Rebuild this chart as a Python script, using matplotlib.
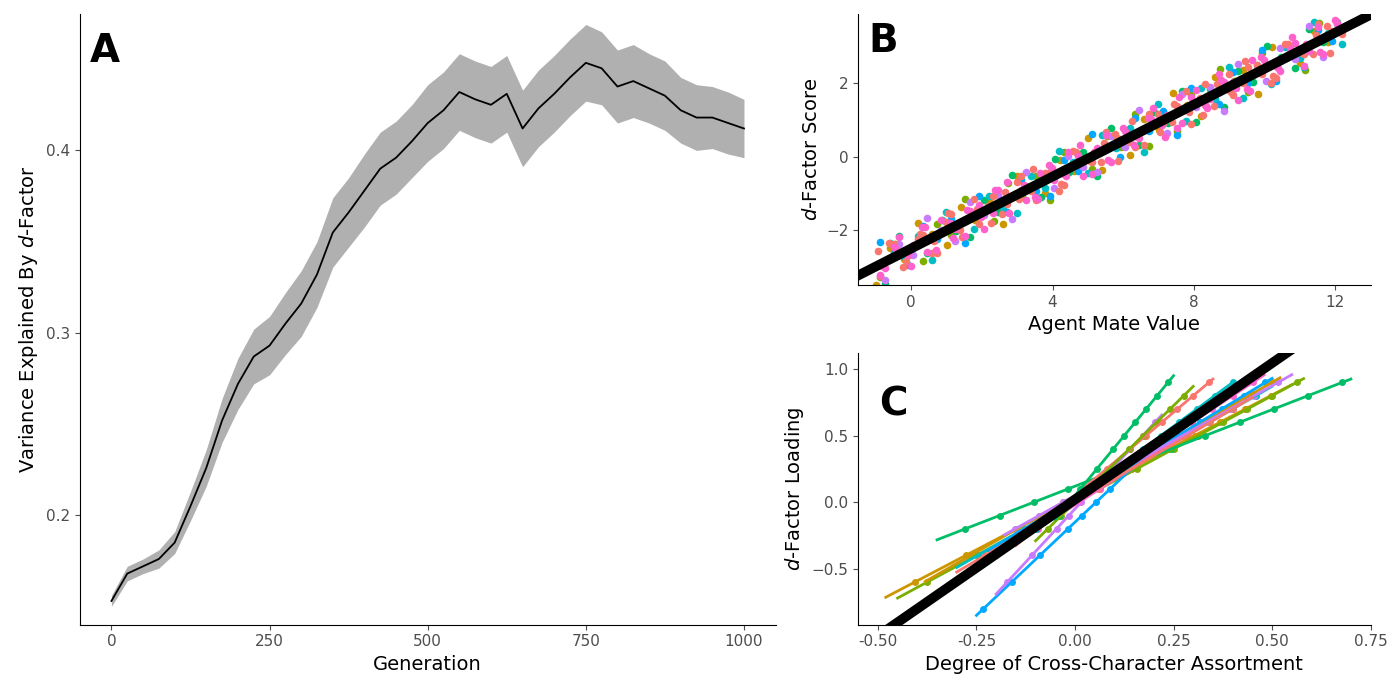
import numpy as np
import matplotlib.pyplot as plt

# Panel A: variance explained over generations
gen = [0, 25, 50, 75, 100, 125, 150, 175, 200, 225, 250, 275, 300, 325, 350, 375, 400,
       425, 450, 475, 500, 525, 550, 575, 600, 625, 650, 675, 700, 725, 750, 775, 800,
       825, 850, 875, 900, 925, 950, 975, 1000]
var_expl = [0.153, 0.168, 0.172, 0.176, 0.185, 0.205, 0.226, 0.252, 0.272, 0.287, 0.293,
            0.305, 0.316, 0.332, 0.355, 0.366, 0.378, 0.390, 0.396, 0.405, 0.415, 0.422,
            0.432, 0.428, 0.425, 0.431, 0.412, 0.423, 0.431, 0.440, 0.448, 0.445, 0.435,
            0.438, 0.434, 0.430, 0.422, 0.418, 0.418, 0.415, 0.412]
var_se = [0.003, 0.004, 0.004, 0.005, 0.006, 0.008, 0.010, 0.012, 0.014, 0.015, 0.016,
          0.017, 0.018, 0.018, 0.019, 0.019, 0.020, 0.020, 0.020, 0.020, 0.021, 0.021,
          0.021, 0.021, 0.021, 0.021, 0.021, 0.021, 0.021, 0.021, 0.021, 0.020, 0.020,
          0.020, 0.019, 0.019, 0.018, 0.018, 0.017, 0.017, 0.016]

colors = ['#CD9600', '#7CAE00', '#00BE67', '#00BFC4', '#00A9FF', '#C77CFF', '#F8766D', '#FF61CC']

# Panel B: agent mate value vs d-factor score (sampled points per population)
mate_value = [-1.0, -0.6, -0.2, 0.2, 0.6, 1.0, 1.4, 1.8, 2.2, 2.6, 3.0, 3.4, 3.8, 4.2, 4.6,
              5.0, 5.4, 5.8, 6.2, 6.6, 7.0, 7.4, 7.8, 8.2, 8.6, 9.0, 9.4, 9.8, 10.2, 10.6,
              11.0, 11.4, 11.8]
score_offsets = [-0.5, 0.3, -0.2, 0.6, 0.1, -0.4, 0.45, -0.1, 0.25, -0.6, 0.5, 0.0,
                 -0.35, 0.35, -0.15, 0.55, -0.5, 0.2]

# Panel C: per-population fitted lines (x start, x end, slope, intercept)
c_x0 = [-0.48, -0.45, -0.35, -0.30, -0.25, -0.20, -0.15, -0.28, -0.38, -0.10, -0.05, -0.12,
        -0.22, -0.18, -0.30, -0.15]
c_x1 = [0.55, 0.58, 0.70, 0.50, 0.28, 0.22, 0.35, 0.45, 0.52, 0.30, 0.25, 0.40,
        0.50, 0.55, 0.45, 0.48]
c_slope = [1.55, 1.60, 1.15, 1.70, 2.80, 3.20, 2.50, 1.90, 1.70, 2.90, 3.60, 2.20,
           1.80, 1.65, 1.75, 1.95]
c_icpt = [0.03, 0.00, 0.12, 0.02, -0.15, -0.05, 0.05, -0.02, 0.05, 0.00, 0.05, 0.02,
          0.03, 0.05, 0.00, 0.02]
c_pts = [-0.8, -0.6, -0.4, -0.2, -0.1, 0.0, 0.1, 0.25, 0.4, 0.5, 0.6, 0.7, 0.8, 0.9]

fig = plt.figure(figsize=(14, 6.79), dpi=100)
axA = fig.add_axes([0.057, 0.08, 0.497, 0.9])
axB = fig.add_axes([0.613, 0.58, 0.366, 0.40])
axC = fig.add_axes([0.613, 0.08, 0.366, 0.40])

g = np.array(gen); v = np.array(var_expl); s = np.array(var_se)
axA.fill_between(g, v - s, v + s, color='#b0b0b0', lw=0)
axA.plot(g, v, color='black', lw=1.3)
axA.set_xlim(-50, 1050); axA.set_ylim(0.14, 0.475)
axA.set_xticks([0, 250, 500, 750, 1000]); axA.set_yticks([0.2, 0.3, 0.4])
axA.set_xlabel('Generation', fontsize=14)
axA.set_ylabel('Variance Explained By $\\it{d}$-Factor', fontsize=14)
axA.text(0.015, 0.97, 'A', transform=axA.transAxes, fontsize=28, fontweight='bold', va='top')

mv = np.array(mate_value)
off = np.array(score_offsets)
for i, c in enumerate(colors):
    reps = 3 if i >= 6 else 1
    for r in range(reps):
        xs = mv + (i * 0.13 + r * 0.07) % 0.4
        ys = -2.5 + 0.49 * xs + np.roll(np.resize(off, len(mv)), i * 3 + r * 5) * (0.8 if i >= 6 else 1.0)
        axB.scatter(xs, ys, color=c, s=30, lw=0)
xl = np.array([-2, 14])
axB.plot(xl, -2.5 + 0.49 * xl, color='black', lw=7)
axB.set_xlim(-1.5, 13); axB.set_ylim(-3.5, 3.9)
axB.set_xticks([0, 4, 8, 12]); axB.set_yticks([-2, 0, 2])
axB.set_xlabel('Agent Mate Value', fontsize=14)
axB.set_ylabel('$\\it{d}$-Factor Score', fontsize=14)
axB.text(0.02, 0.97, 'B', transform=axB.transAxes, fontsize=28, fontweight='bold', va='top')

for i in range(len(c_x0)):
    col = colors[i % len(colors)]
    xs = np.array([c_x0[i], c_x1[i]])
    axC.plot(xs, c_icpt[i] + c_slope[i] * xs, color=col, lw=2)
    yp = np.array(c_pts)
    xp = (yp - c_icpt[i]) / c_slope[i]
    keep = (xp >= c_x0[i]) & (xp <= c_x1[i])
    axC.scatter(xp[keep], yp[keep], color=col, s=25, lw=0)
xl = np.array([-0.6, 0.8])
axC.plot(xl, 0.02 + 2.05 * xl, color='black', lw=7)
axC.set_xlim(-0.55, 0.75); axC.set_ylim(-0.92, 1.12)
axC.set_xticks([-0.5, -0.25, 0, 0.25, 0.5, 0.75])
axC.set_xticklabels(['-0.50', '-0.25', '0.00', '0.25', '0.50', '0.75'])
axC.set_yticks([-0.5, 0, 0.5, 1.0])
axC.set_xlabel('Degree of Cross-Character Assortment', fontsize=14)
axC.set_ylabel('$\\it{d}$-Factor Loading', fontsize=14)
axC.text(0.04, 0.88, 'C', transform=axC.transAxes, fontsize=28, fontweight='bold', va='top')

for ax in (axA, axB, axC):
    ax.spines['top'].set_visible(False); ax.spines['right'].set_visible(False)
    ax.tick_params(labelsize=11, colors='#4d4d4d')

fig.savefig('out.png', dpi=100)
